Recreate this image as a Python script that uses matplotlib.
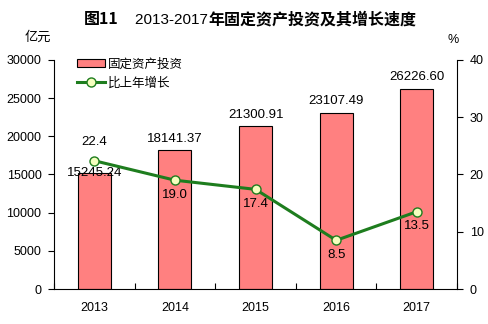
import matplotlib
matplotlib.use("Agg")
import matplotlib.pyplot as plt
import numpy as np
from matplotlib.offsetbox import TextArea, HPacker, AnchoredOffsetbox
from matplotlib.patches import Rectangle
from matplotlib.lines import Line2D

plt.rcParams['font.family'] = ['Liberation Sans', 'Noto Sans CJK SC', 'DejaVu Sans']

years = ['2013', '2014', '2015', '2016', '2017']
investment = [15245.24, 18141.37, 21300.91, 23107.49, 26226.60]
growth = [22.4, 19.0, 17.4, 8.5, 13.5]
left_ticks = [0, 5000, 10000, 15000, 20000, 25000, 30000]
right_ticks = [0, 10, 20, 30, 40]

bar_color = '#ff8080'
line_color = '#1e7d1e'
marker_face = '#f5ffbe'
cjk = ['Noto Sans CJK SC', 'DejaVu Sans']

fig = plt.figure(figsize=(4.88, 3.24), dpi=100)
ax = fig.add_axes([0.1107, 0.108, 0.826, 0.707])
ax2 = ax.twinx()

x = np.arange(len(years))
ax.bar(x, investment, width=0.41, color=bar_color, edgecolor='black', linewidth=0.8, zorder=2)
ax.set_xlim(-0.5, len(years) - 0.5)
ax.set_ylim(0, 30000)
ax.set_yticks(left_ticks)
ax.set_yticklabels([str(t) for t in left_ticks])
ax.set_xticks(x)
ax.set_xticklabels(years)
ax.set_xticks(np.arange(len(years) + 1) - 0.5, minor=True)
ax.tick_params(axis='x', which='major', length=0, pad=9, labelsize=9)
ax.tick_params(axis='x', which='minor', direction='in', length=4, width=0.8)
ax.tick_params(axis='y', direction='out', length=4, width=0.8, labelsize=9, pad=5)
for s in ['top', 'right']:
    ax.spines[s].set_visible(False)

# bar value labels; the first one sits on the bar top to clear the line label
for i, (xi, v) in enumerate(zip(x, investment)):
    if i == 0:
        ax.text(xi, v, f'{v:.2f}', ha='center', va='center', fontsize=9.5, zorder=4)
    else:
        ax.annotate(f'{v:.2f}', (xi, v), xytext=(0, 4), textcoords='offset points',
                    ha='center', va='bottom', fontsize=9.5)

ax2.plot(x, growth, color=line_color, linewidth=2.2, marker='o', markersize=6.5,
         markerfacecolor=marker_face, markeredgecolor=line_color, markeredgewidth=1, zorder=3)
ax2.set_ylim(0, 40)
ax2.set_yticks(right_ticks)
ax2.set_yticklabels([str(t) for t in right_ticks])
ax2.tick_params(axis='y', direction='out', length=4, width=0.8, labelsize=9, pad=5)
for s in ['top', 'left', 'bottom']:
    ax2.spines[s].set_visible(False)

for i, (xi, g) in enumerate(zip(x, growth)):
    if i == 0:
        ax2.annotate(f'{g:.1f}', (xi, g), xytext=(0, 9), textcoords='offset points',
                     ha='center', va='bottom', fontsize=9.5)
    else:
        ax2.annotate(f'{g:.1f}', (xi, g), xytext=(0, -6), textcoords='offset points',
                     ha='center', va='top', fontsize=9.5)

# axis unit labels
fig.text(38 / 488, 1 - 37 / 324, '亿元', family=cjk, fontsize=9.5, ha='center', va='center')
fig.text(453 / 488, 1 - 40 / 324, '%', fontsize=9, ha='center', va='center')

# legend
legend_items = [
    (Rectangle((0, 0), 1, 1, facecolor=bar_color, edgecolor='black', linewidth=0.8), '固定资产投资'),
    (Line2D([], [], color=line_color, linewidth=2.2, marker='o', markersize=6.5,
            markerfacecolor=marker_face, markeredgecolor=line_color), '比上年增长'),
]
leg = ax.legend([h for h, _ in legend_items], [l for _, l in legend_items],
                loc='upper left', bbox_to_anchor=(0.03, 1.06), frameon=False,
                prop={'family': cjk, 'size': 9}, handlelength=2.2, handletextpad=0.25,
                labelspacing=0.5)

# title with mixed weights
parts = [
    TextArea('图11', textprops=dict(family=cjk, fontweight='bold', fontsize=11.5)),
    TextArea('    2013-2017', textprops=dict(family=['Liberation Sans'], fontsize=11)),
    TextArea('年固定资产投资及其增长速度', textprops=dict(family=cjk, fontweight='bold', fontsize=11.5)),
]
box = HPacker(children=parts, align='baseline', pad=0, sep=0)
title = AnchoredOffsetbox(loc='center', child=box, frameon=False,
                          bbox_to_anchor=(250 / 488, 1 - 19 / 324),
                          bbox_transform=fig.transFigure, borderpad=0, pad=0)
fig.add_artist(title)

fig.savefig('out.png', dpi=100)
